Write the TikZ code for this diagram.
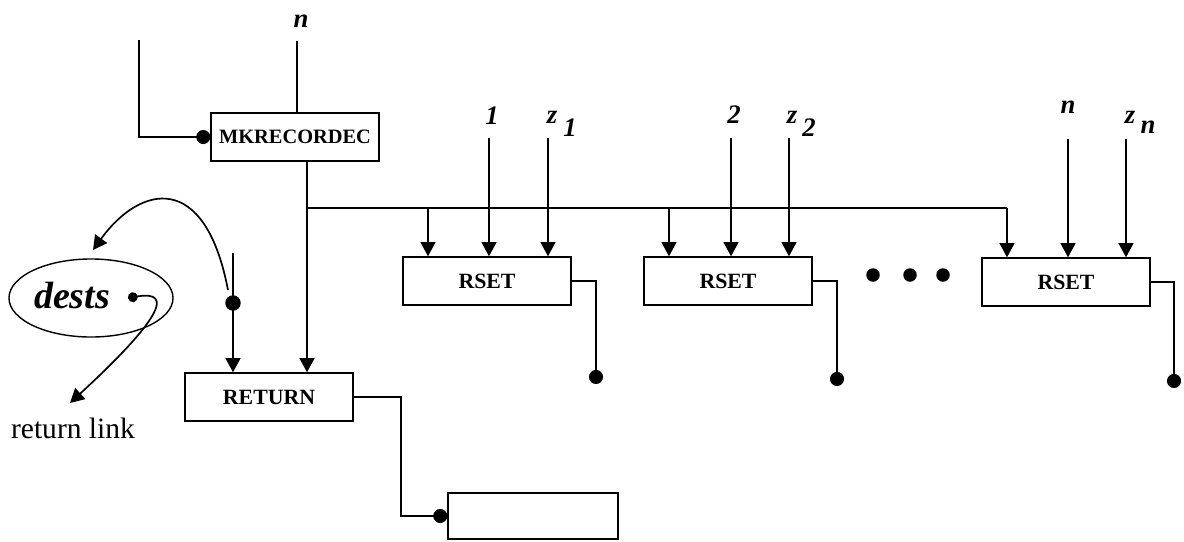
\documentclass[tikz,border=0pt]{standalone}
\usepackage{fontspec}
\setmainfont{Liberation Serif}
\usetikzlibrary{arrows.meta,calc,positioning,shapes.geometric}

\begin{document}
\begin{tikzpicture}[
    x=0.025cm, y=-0.025cm,
    >={Triangle[width=10.5pt,length=10pt]},
    line width=1.2pt,
    op/.style={
      draw,
      line width=1pt,
      minimum width=4.2cm,
      minimum height=1.2cm,
      inner sep=0pt,
      font=\fontsize{15.5}{18}\selectfont\bfseries,
    },
    lbl/.style={inner sep=0pt, font=\fontsize{19}{22}\selectfont\bfseries\itshape},
    dot/.style={-{Circle[length=10pt]}},
  ]
    \useasboundingbox (0,0) rectangle (1184,541);

    % boxes
    \node[op, font=\fontsize{14.5}{17}\selectfont\bfseries] (mk) at (295,137) {MKRECORDEC};
    \node[op] (ret) at (269,397) {RETURN};
    \node[op] (rs1) at (487,281) {RSET};
    \node[op] (rs2) at (728,281) {RSET};
    \node[op] (rs3) at (1066,282) {RSET};
    \node[draw, line width=1pt, minimum width=4.25cm, minimum height=1.15cm] (res) at (533,516) {};
    \node[draw, ellipse, line width=1pt, minimum width=4.1cm, minimum height=1.95cm] (dests) at (91,298) {};
    \node[font=\fontsize{27}{30}\selectfont\bfseries\itshape] (destsl) at (72,296) {dests};

    % labels
    \node[lbl] (ln) at (301,21) {n};
    \node[lbl] (l1) at (492,116) {1};
    \node[lbl] (lz1) at (552,117) {z};
    \node[lbl] (lz1s) at (570,128) {1};
    \node[lbl] (l2) at (734,115) {2};
    \node[lbl] (lz2) at (792,117) {z};
    \node[lbl] (lz2s) at (809,128) {2};
    \node[lbl] (l3) at (1068,107) {n};
    \node[lbl] (lz3) at (1130,117) {z};
    \node[lbl] (lz3s) at (1148,127) {n};
    \node[font=\fontsize{21}{24}\selectfont] (rlink) at (73,428) {return link};

    % wire ends
    \coordinate (inl) at (139,40);
    \coordinate (inn) at (297,41);
    \coordinate (bj) at (307,208);
    \coordinate (b1) at (428,208);
    \coordinate (b2) at (669,208);
    \coordinate (b3) at (1007,208);
    \coordinate (i1) at (489,138);
    \coordinate (iz1) at (548,138);
    \coordinate (i2) at (731,138);
    \coordinate (iz2) at (789,138);
    \coordinate (i3) at (1068,139);
    \coordinate (iz3) at (1126,139);
    \coordinate (o1) at (596,384);
    \coordinate (o2) at (837,386);
    \coordinate (o3) at (1174,388);
    \coordinate (rt) at (401,516);
    \coordinate (lin) at (233,253);
    \coordinate (ldot) at (233,303);
    \coordinate (cst) at (228,290);
    \coordinate (dl) at (93,250);
    \coordinate (ddot) at (128,298);
    \coordinate (rl) at (70,403);

    \draw[dot] (inl) |- (mk.west);
    \draw (inn) -- (inn |- mk.north);
    \draw (mk.south -| bj) -- (bj) -- (b3);
    \draw[->] (bj) -- (bj |- ret.north);
    \draw[->] (b3) -- (b3 |- rs3.north);
    \draw[->] (b1) -- (b1 |- rs1.north);
    \draw[->] (b2) -- (b2 |- rs2.north);
    \foreach \c/\b in {i1/rs1, iz1/rs1, i2/rs2, iz2/rs2, i3/rs3, iz3/rs3}
      \draw[->] (\c) -- (\c |- \b.north);
    \foreach \b/\o in {rs1/o1, rs2/o2, rs3/o3}
      \draw[dot] (\b.east) -| (\o);
    \draw[dot] (ret.east) -| (rt) -- (res.west);

    \draw (lin) -- (ldot);
    \fill (ldot) circle (5.5pt);
    \draw[->] (ldot) -- (ldot |- ret.north);
    \draw[->] (cst) .. controls (205,170) and (140,185) .. (dl);
    \draw[{Circle[length=7pt]}->] (ddot) .. controls (175,290) and (160,320) .. (rl);

    % dots between the boxes
    \foreach \x in {873,910,943}
      \fill (\x,275) circle (4.8pt);
  \end{tikzpicture}
\end{document}
